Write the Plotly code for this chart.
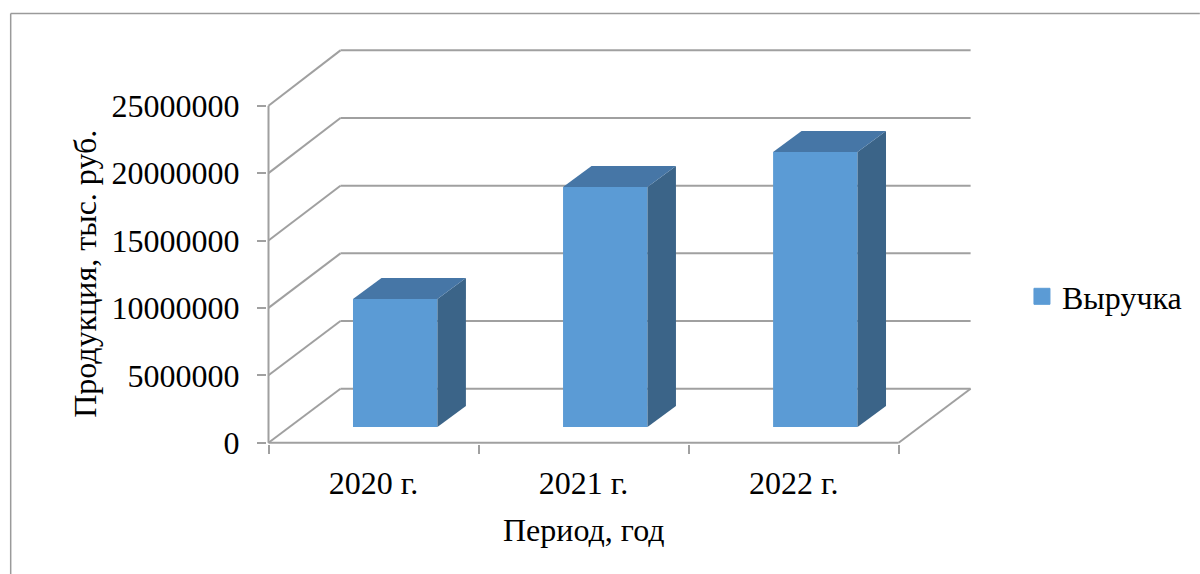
import plotly.graph_objects as go

categories = ["2020 г.", "2021 г.", "2022 г."]
revenue = [9500000, 17800000, 20400000]
value_ticks = [0, 5000000, 10000000, 15000000, 20000000, 25000000]
series_name = "Выручка"
x_title = "Период, год"
y_title = "Продукция, тыс. руб."

W, H = 1200, 574
X0, Y0 = 268.0, 442.7          # pixel position of the front origin
PX_CAT = 210.2                 # pixels per category
PX_VAL = 13.48 / 1e6           # pixels per value unit
L, R, T, B = 266.5, 974.0, 48.0, 444.0

def dx(px):
    return px / PX_CAT

def dy(px):
    return px / PX_VAL

WALL_X, WALL_Y = dx(72), dy(54)
BAR_W = dx(84.5)
BAR_SHIFT_X, BAR_BASE = dx(21.7), dy(15.7)
BAR_DX, BAR_DY = dx(28.5), dy(21)

GRID = "#a0a0a0"
FRONT, TOP, SIDE = "#5b9bd5", "#4676a6", "#3b6488"
FONT = "Liberation Serif"
FS = 32

idx = list(range(len(categories)))
centers = [i + 0.5 + BAR_SHIFT_X for i in idx]

fig = go.Figure()
fig.add_trace(go.Bar(x=centers, y=revenue, base=BAR_BASE, width=BAR_W,
                     marker=dict(color=FRONT, line=dict(width=0)),
                     showlegend=False, hoverinfo="skip"))

for c, v in zip(centers, revenue):
    left, right = c - BAR_W / 2, c + BAR_W / 2
    top = BAR_BASE + v
    fig.add_trace(go.Scatter(
        x=[right, right + BAR_DX, right + BAR_DX, right, right],
        y=[BAR_BASE, BAR_BASE + BAR_DY, top + BAR_DY, top, BAR_BASE],
        mode="lines", fill="toself", fillcolor=SIDE, line=dict(width=0),
        showlegend=False, hoverinfo="skip"))
    fig.add_trace(go.Scatter(
        x=[left, right, right + BAR_DX, left + BAR_DX, left],
        y=[top, top, top + BAR_DY, top + BAR_DY, top],
        mode="lines", fill="toself", fillcolor=TOP, line=dict(width=0),
        showlegend=False, hoverinfo="skip"))

fig.add_trace(go.Scatter(x=[None], y=[None], mode="markers", name=series_name,
                         marker=dict(symbol="square", size=16, color=FRONT,
                                     line=dict(width=1, color=FRONT))))

n = len(categories)
shapes = []

def seg(x0, y0, x1, y1, width=2):
    shapes.append(dict(type="line", xref="x", yref="y", layer="below",
                       x0=x0, y0=y0, x1=x1, y1=y1,
                       line=dict(color=GRID, width=width)))

back_stretch = 1.004
for v in value_ticks:
    by = v * back_stretch + WALL_Y
    seg(0, v, WALL_X, by)
    seg(WALL_X, by, n + WALL_X, by)
seg(0, 0, 0, value_ticks[-1])
seg(0, 0, n, 0)
seg(n, 0, n + WALL_X, WALL_Y)

def px_x(p):
    return (p - L) / (R - L)

def px_y(p):
    return (B - p) / (B - T)

# outer frame, open at right and bottom
for x0, y0, x1, y1 in [(10, H, 10, 13.5), (10, 13.5, W, 13.5)]:
    shapes.append(dict(type="line", xref="paper", yref="paper",
                       x0=px_x(x0), x1=px_x(x1), y0=px_y(y0), y1=px_y(y1),
                       line=dict(color="#9a9a9a", width=1.5)))

annotations = [
    dict(text=x_title, xref="x", yref="paper", x=n / 2, y=px_y(530),
         xanchor="center", yanchor="middle",
         showarrow=False, font=dict(family=FONT, size=FS, color="black")),
    dict(text=y_title, xref="paper", yref="y", x=px_x(85), y=value_ticks[-1] / 2,
         xanchor="center", yanchor="middle",
         textangle=-90, showarrow=False, font=dict(family=FONT, size=FS, color="black")),
]

fig.update_layout(
    width=W, height=H, autosize=False,
    margin=dict(l=L, r=W - R, t=T, b=H - B, pad=0, autoexpand=False),
    paper_bgcolor="white", plot_bgcolor="white",
    barmode="overlay",
    shapes=shapes, annotations=annotations,
    showlegend=True,
    legend=dict(x=px_x(1022), y=px_y(296.5), xanchor="left", yanchor="middle",
                font=dict(family=FONT, size=FS, color="black"),
                bgcolor="rgba(0,0,0,0)"),
    xaxis=dict(range=[dx(L - X0), dx(R - X0)], showgrid=False, zeroline=False, showline=False,
               tickmode="array", tickvals=[i + 0.5 for i in idx], ticktext=categories,
               ticks="", ticklen=0, ticklabelstandoff=17,
               tickfont=dict(family=FONT, size=FS, color="black"),
               minor=dict(tickmode="array", tickvals=list(range(n + 1)), ticks="outside",
                          ticklen=9, tickwidth=1.5, tickcolor=GRID, showgrid=False)),
    yaxis=dict(range=[dy(Y0 - B), dy(Y0 - T)], showgrid=False, zeroline=False, showline=False,
               tickmode="array", tickvals=value_ticks, ticktext=[str(v) for v in value_ticks],
               ticks="outside", ticklen=9, tickwidth=1.5, tickcolor=GRID,
               ticklabelstandoff=11,
               tickfont=dict(family=FONT, size=FS, color="black")),
)
fig.write_html("out.html", config={"displayModeBar": False},
               post_script="document.body.style.margin='0';document.documentElement.style.overflow='hidden';")
